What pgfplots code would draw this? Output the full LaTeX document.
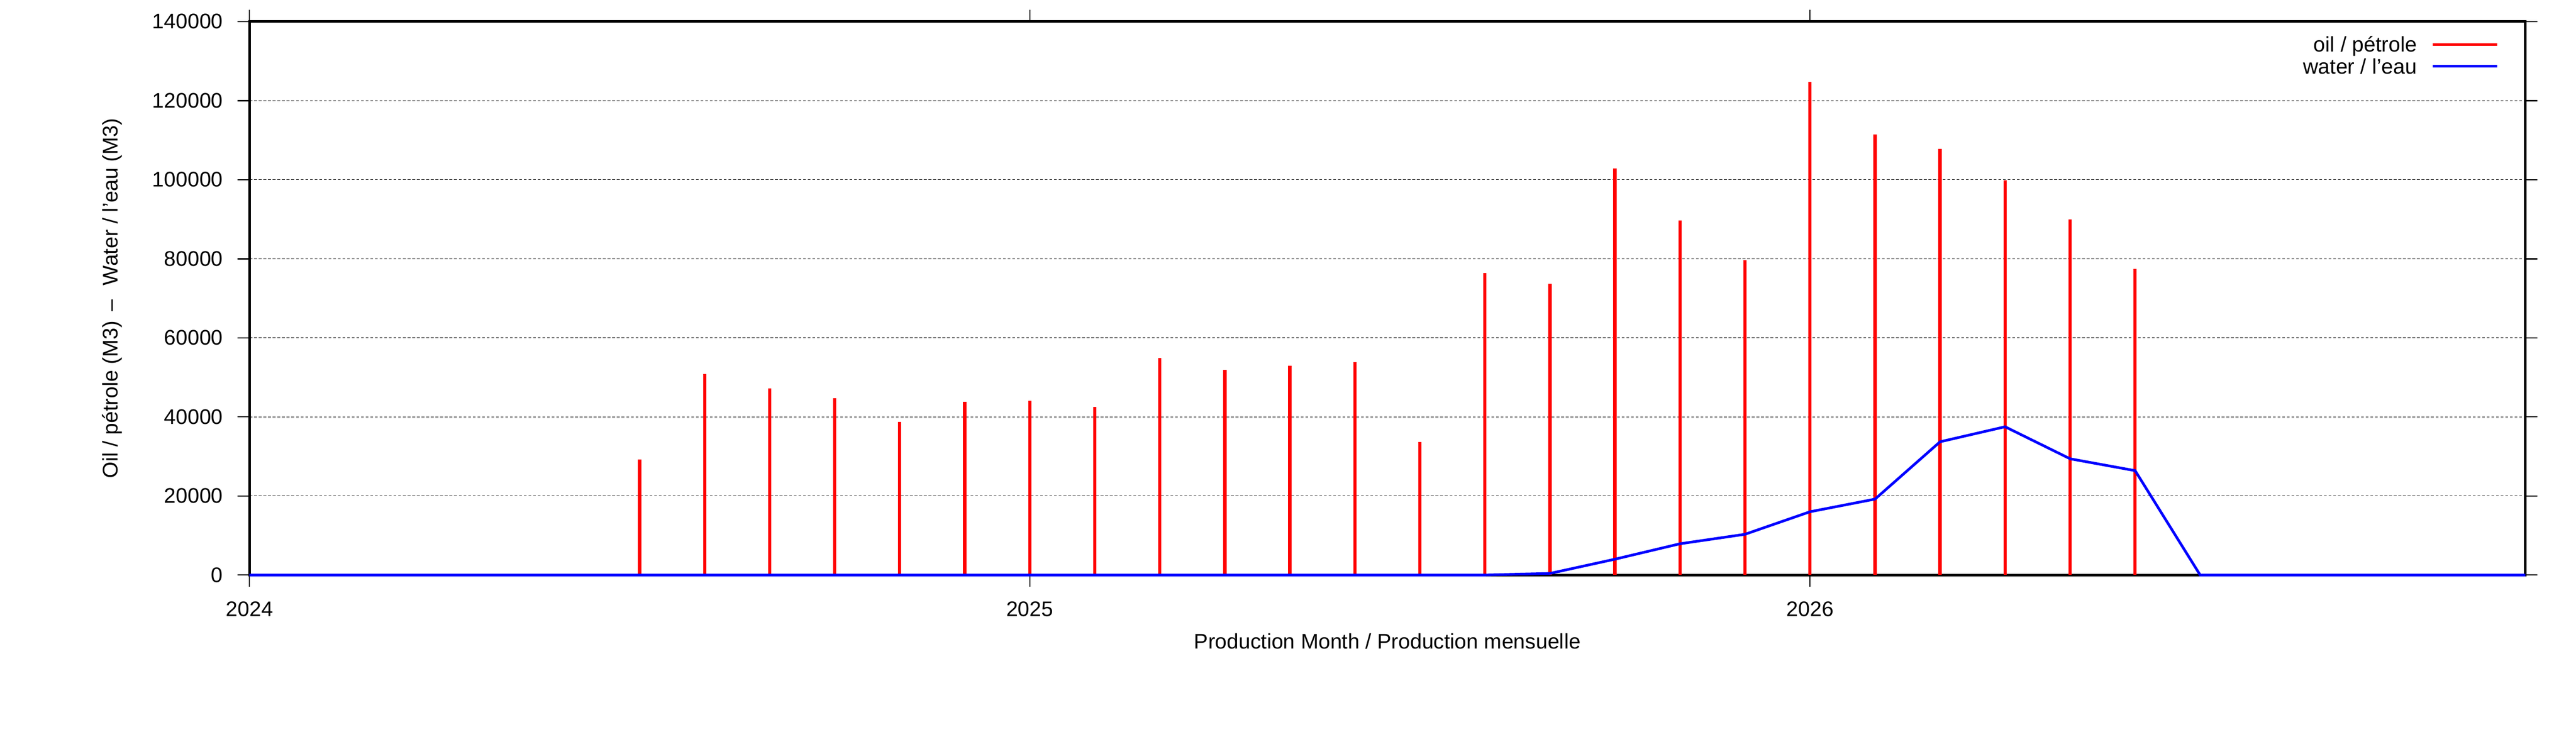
\documentclass[border=0pt]{standalone}
\usepackage{fontspec}
\setmainfont{Liberation Sans}
\usepackage{pgfplots}
\pgfplotsset{compat=1.18}
\usepackage{pgfplotstable}

\pgfplotstableread{
m oil
6 29200
7 50800
8 47200
9 44700
10 38700
11 43800
12 44100
13 42500
14 54900
15 51900
16 52900
17 53800
18 33700
19 76400
20 73600
21 102900
22 89700
23 79600
24 124800
25 111500
26 107800
27 99900
28 90000
29 77400
}\oildata

\pgfplotstableread{
m water
0 0
1 0
2 0
3 0
4 0
5 0
6 0
7 0
8 0
9 0
10 0
11 0
12 0
13 0
14 0
15 0
16 0
17 0
18 0
19 0
20 400
21 4000
22 7900
23 10300
24 16000
25 19200
26 33700
27 37500
28 29400
29 26400
30 0
31 0
32 0
33 0
34 0
35 0
}\waterdata

\begin{document}
\begin{tikzpicture}
\useasboundingbox (-118pt,-82.2pt) rectangle (1100.4pt,272pt);
\begin{axis}[
  at={(0,0)}, anchor=south west,
  scale only axis, width=1076.4pt, height=261.8pt,
  xmin=0, xmax=35, ymin=0, ymax=140000,
  xtick={0,12,24}, xticklabels={2024,2025,2026},
  ytick={0,20000,40000,60000,80000,100000,120000,140000},
  scaled y ticks=false,
  yticklabel style={/pgf/number format/fixed,/pgf/number format/1000 sep={}, xshift=-3.4pt},
  xticklabel style={yshift=-3.4pt},
  /pgf/number format/assume math mode=true,
  tick align=outside, major tick length=5.6pt,
  major tick style={black, line width=0.6pt},
  axis line style={line width=1.2pt},
  ymajorgrids,
  major grid style={black, line width=0.28pt, dash pattern=on 1.3pt off 0.9pt},
  clip=false,
  xlabel={Production Month / Production mensuelle},
  ylabel={Oil / pétrole (M3)\hspace{4.6pt}–\hspace{6.6pt}Water / l’eau (M3)},
  xlabel style={at={(axis description cs:0.5,-0.1196)}, anchor=center},
  ylabel style={at={(axis description cs:-0.0604,0.5)}, anchor=center},
  legend plot pos=right,
  legend cell align=right,
  legend style={at={(axis description cs:1,1)}, anchor=north east,
    xshift=-12.4pt, yshift=-6.7pt, draw=none, fill=none, inner sep=0pt,
    column sep=6.9pt, row sep=0pt,
    font=\normalsize,
    nodes={inner sep=0pt, text height=7.5pt, text depth=2.8pt}},
]
\addplot[ycomb, red, line width=1.55pt, mark=none,
  legend image code/.code={\draw[red, line width=1.3pt] (0pt,1.25pt) -- (30.4pt,1.25pt);}]
  table[x=m, y=oil]{\oildata};
\addlegendentry{oil / pétrole}
\addplot[blue, line width=1.25pt, mark=none,
  legend image code/.code={\draw[blue, line width=1.3pt] (0pt,1.25pt) -- (30.4pt,1.25pt);}]
  table[x=m, y=water]{\waterdata};
\addlegendentry{water / l’eau}
\end{axis}
\end{tikzpicture}
\end{document}
